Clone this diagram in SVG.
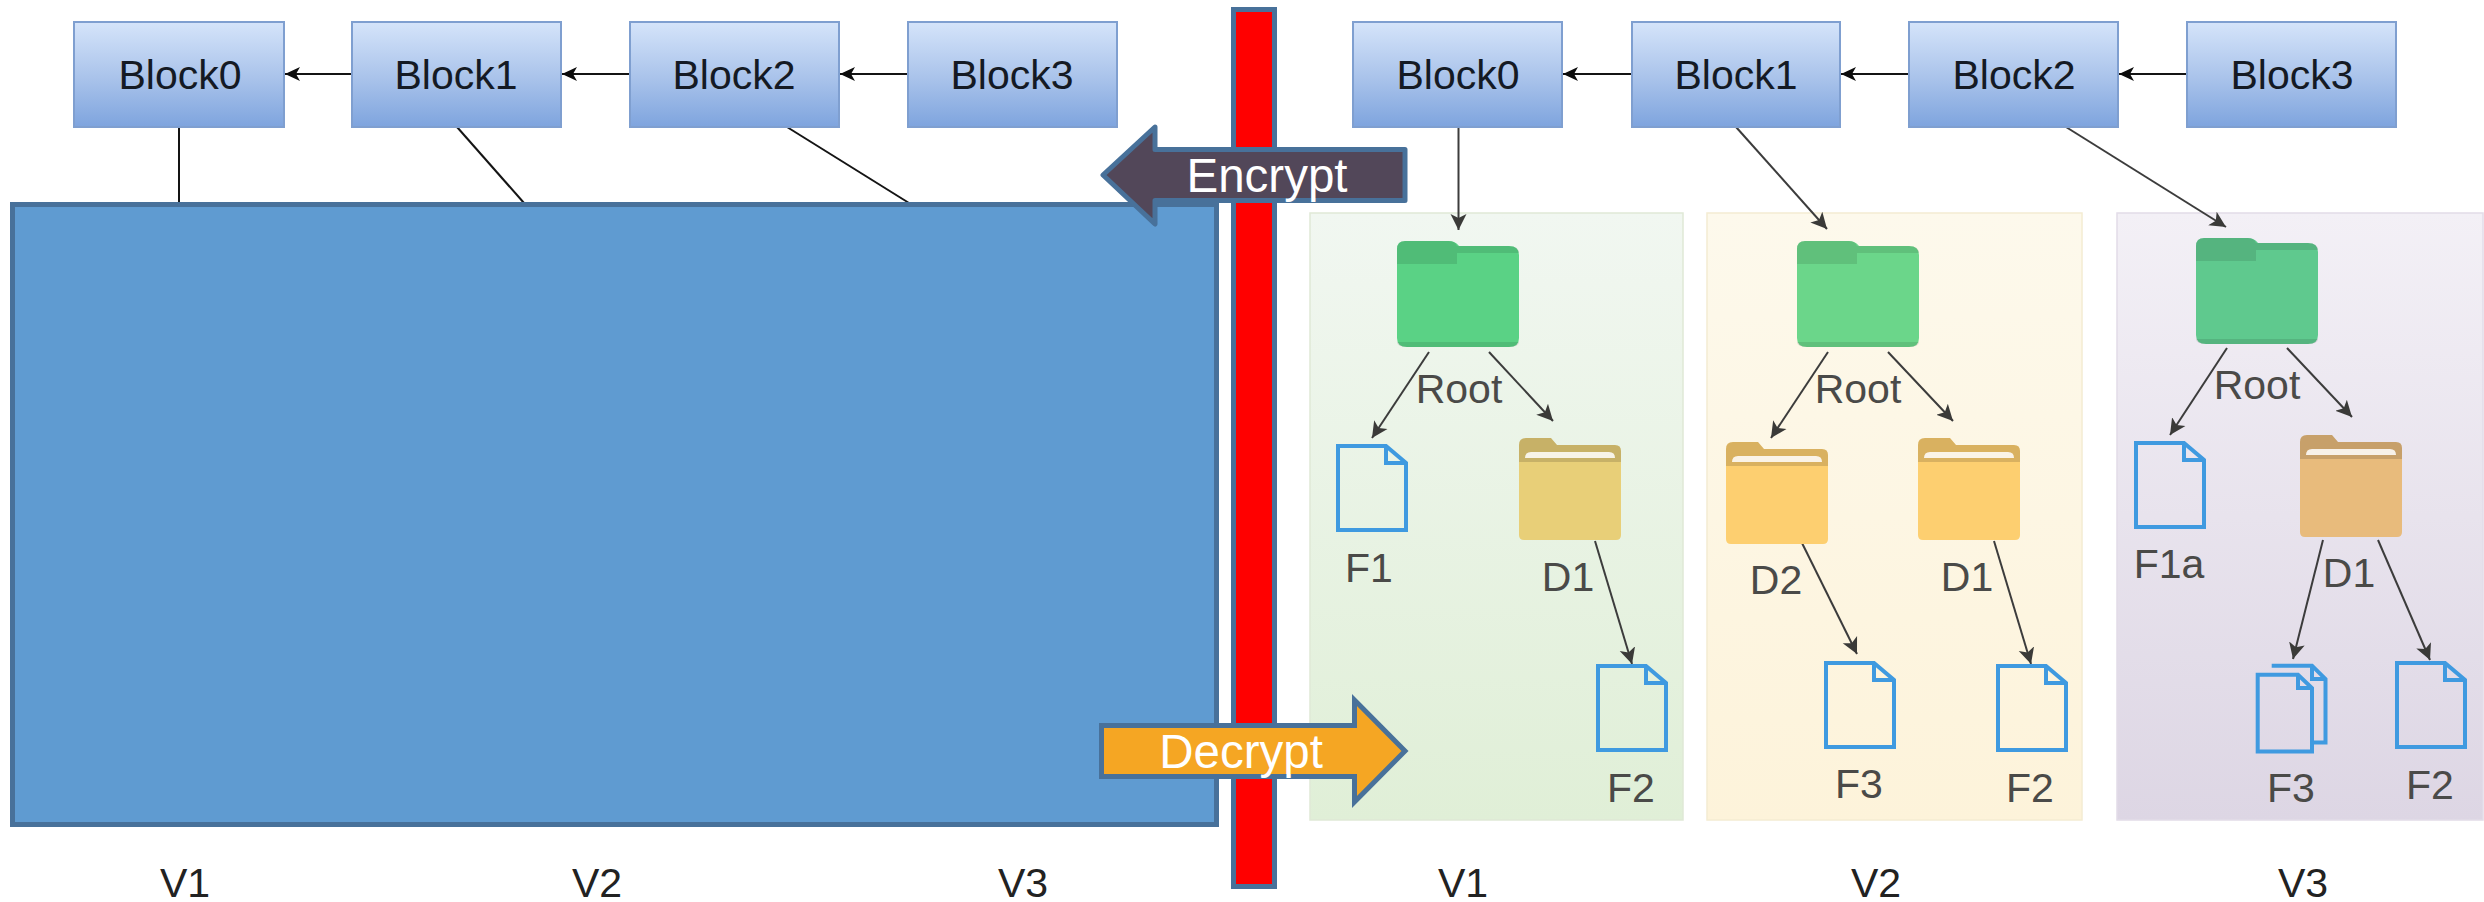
<svg xmlns="http://www.w3.org/2000/svg" xmlns:xlink="http://www.w3.org/1999/xlink" width="2484" height="902" viewBox="0 0 2484 902">
<style>
text{font-family:"Liberation Sans",Arial,sans-serif;font-size:41px;text-anchor:middle}
.blk rect{fill:url(#gb);stroke:#7f9fd0;stroke-width:2}
.blk text{fill:#141a24}
.lbl{fill:#4a4a48}
.v{fill:#222;font-size:41px}
.doc{fill:none;stroke:#3f9ae0;stroke-width:4}
.big{stroke:#48719a;stroke-width:5}
.big2{fill:#fff;font-size:47.500px}
.link{stroke:#141414;stroke-width:2;fill:none}
.tree{stroke:#3c3c3c;stroke-width:2;fill:none;marker-end:url(#ah)}
.blink{marker-end:url(#ab)}
.shade{fill:#000;fill-opacity:.1}
.strip{fill:#fff;fill-opacity:.85}
.back{fill:#000;fill-opacity:.14}
</style>
<defs>
<linearGradient id="gb" x1="0" y1="0" x2="0" y2="1"><stop offset="0" stop-color="#d5e4fa"/><stop offset=".55" stop-color="#a8c2ea"/><stop offset="1" stop-color="#7ea4de"/></linearGradient>
<linearGradient id="gp1" x1="0" y1="0" x2="0" y2="1"><stop offset="0" stop-color="#f1f7f1"/><stop offset="1" stop-color="#e0efd7"/></linearGradient>
<linearGradient id="gp2" x1="0" y1="0" x2="0" y2="1"><stop offset="0" stop-color="#fdf9ec"/><stop offset="1" stop-color="#fdf3da"/></linearGradient>
<linearGradient id="gp3" x1="0" y1="0" x2="0" y2="1"><stop offset="0" stop-color="#f3f0f6"/><stop offset="1" stop-color="#ddd6e4"/></linearGradient>
<marker id="ab" markerUnits="userSpaceOnUse" markerWidth="16" markerHeight="16" viewBox="0 0 16 16" refX="15" refY="8" orient="auto"><path d="M0 1L15 8L0 15L4 8Z" fill="#0c0c0c"/></marker>
<marker id="ah" markerUnits="userSpaceOnUse" markerWidth="18" markerHeight="18" viewBox="0 0 18 18" refX="16" refY="9" orient="auto"><path d="M0 1L16 9L0 17L4 9Z" fill="#3a3a38"/></marker>
<g id="file"><path class="doc" d="M2 2H50L70 19V86H2ZM50 2V19H70"/></g>
<g id="folder">
<path d="M0 20H102V97Q102 102 97 102H5Q0 102 0 97Z"/>
<path d="M0 7Q0 0 7 0H32L38 7H96Q102 7 102 13V24H0Z"/>
<path class="back" d="M0 7Q0 0 7 0H32L38 7H96Q102 7 102 13V24H0Z"/>
<path class="strip" d="M6 20Q6 14 12 14H90Q96 14 96 20Z"/>
</g>
<g id="rootf">
<path d="M0 8Q0 0 8 0H52Q58 0 62 5H112Q122 5 122 14V97Q122 106 112 106H10Q0 106 0 97Z"/>
<path class="shade" d="M0 8Q0 0 8 0H52Q58 0 60 5V23H0Z"/>
<path class="shade" d="M60 5H112Q122 5 122 12H60Z"/>
<path class="shade" d="M0 101H122Q122 106 112 106H10Q0 106 0 101Z"/>
</g>
</defs>
<rect width="2484" height="902" fill="#fff"/>

<g id="panel-v1"><rect x="1310" y="213" width="373" height="607" fill="url(#gp1)" stroke="#dfe9d6" stroke-width="1.5"/></g>
<g id="panel-v2"><rect x="1707" y="213" width="375" height="607" fill="url(#gp2)" stroke="#f4ecd2" stroke-width="1.5"/></g>
<g id="panel-v3"><rect x="2117" y="213" width="366" height="607" fill="url(#gp3)" stroke="#e2dce8" stroke-width="1.5"/></g>

<g id="connectors">
<line class="link blink" x1="352" y1="74" x2="285" y2="74"/>
<line class="link blink" x1="630" y1="74" x2="562" y2="74"/>
<line class="link blink" x1="908" y1="74" x2="840" y2="74"/>
<line class="link" x1="179" y1="127" x2="179" y2="203"/>
<line class="link" x1="457" y1="127" x2="524" y2="203"/>
<line class="link" x1="787" y1="127" x2="909" y2="203"/>
<line class="link blink" x1="1632" y1="74" x2="1563" y2="74"/>
<line class="link blink" x1="1909" y1="74" x2="1841" y2="74"/>
<line class="link blink" x1="2187" y1="74" x2="2119" y2="74"/>
<line class="tree" x1="1458.500" y1="127" x2="1458.500" y2="230"/>
<line class="tree" x1="1736" y1="127" x2="1827" y2="229"/>
<line class="tree" x1="2066" y1="127" x2="2226" y2="227"/>
<line class="tree" x1="1429" y1="352" x2="1372" y2="438"/>
<line class="tree" x1="1489" y1="352" x2="1553" y2="421"/>
<line class="tree" x1="1595" y1="541" x2="1632" y2="664"/>
<line class="tree" x1="1828" y1="352" x2="1771" y2="438"/>
<line class="tree" x1="1888" y1="352" x2="1953" y2="421"/>
<line class="tree" x1="1802" y1="543" x2="1857" y2="654"/>
<line class="tree" x1="1994" y1="541" x2="2031" y2="664"/>
<line class="tree" x1="2227" y1="348" x2="2170" y2="435"/>
<line class="tree" x1="2287" y1="348" x2="2352" y2="417"/>
<line class="tree" x1="2323" y1="540" x2="2293" y2="659"/>
<line class="tree" x1="2378" y1="540" x2="2430" y2="660"/>
</g>

<g id="left-block0" class="blk"><rect x="74" y="22" width="210" height="105"/><text x="180" y="89">Block0</text></g>
<g id="left-block1" class="blk"><rect x="352" y="22" width="209" height="105"/><text x="456" y="89">Block1</text></g>
<g id="left-block2" class="blk"><rect x="630" y="22" width="209" height="105"/><text x="734" y="89">Block2</text></g>
<g id="left-block3" class="blk"><rect x="908" y="22" width="209" height="105"/><text x="1012" y="89">Block3</text></g>
<g id="right-block0" class="blk"><rect x="1353" y="22" width="209" height="105"/><text x="1458" y="89">Block0</text></g>
<g id="right-block1" class="blk"><rect x="1632" y="22" width="208" height="105"/><text x="1736" y="89">Block1</text></g>
<g id="right-block2" class="blk"><rect x="1909" y="22" width="209" height="105"/><text x="2014" y="89">Block2</text></g>
<g id="right-block3" class="blk"><rect x="2187" y="22" width="209" height="105"/><text x="2292" y="89">Block3</text></g>

<g id="v1-root"><use xlink:href="#rootf" href="#rootf" x="1397" y="241" fill="#5ad285"/><text class="lbl" x="1459" y="403">Root</text></g>
<g id="v1-f1"><use xlink:href="#file" href="#file" x="1336" y="444"/><text class="lbl" x="1369" y="582">F1</text></g>
<g id="v1-d1"><use xlink:href="#folder" href="#folder" x="1519" y="438" fill="#e8cf78"/><text class="lbl" x="1568" y="591">D1</text></g>
<g id="v1-f2"><use xlink:href="#file" href="#file" x="1596" y="664"/><text class="lbl" x="1631" y="802">F2</text></g>

<g id="v2-root"><use xlink:href="#rootf" href="#rootf" x="1797" y="241" fill="#6bd68a"/><text class="lbl" x="1858" y="403">Root</text></g>
<g id="v2-d2"><use xlink:href="#folder" href="#folder" x="1726" y="442" fill="#fdcf70"/><text class="lbl" x="1776" y="594">D2</text></g>
<g id="v2-d1"><use xlink:href="#folder" href="#folder" x="1918" y="438" fill="#fdcf70"/><text class="lbl" x="1967" y="591">D1</text></g>
<g id="v2-f3"><use xlink:href="#file" href="#file" x="1824" y="661"/><text class="lbl" x="1859" y="798">F3</text></g>
<g id="v2-f2"><use xlink:href="#file" href="#file" x="1996" y="664"/><text class="lbl" x="2030" y="802">F2</text></g>

<g id="v3-root"><use xlink:href="#rootf" href="#rootf" x="2196" y="238" fill="#5fc98e"/><text class="lbl" x="2257" y="399">Root</text></g>
<g id="v3-f1a"><use xlink:href="#file" href="#file" x="2134" y="441"/><text class="lbl" x="2169" y="578">F1a</text></g>
<g id="v3-d1"><use xlink:href="#folder" href="#folder" x="2300" y="435" fill="#e8bb7c"/><text class="lbl" x="2349" y="587">D1</text></g>
<g id="v3-f3">
<path class="doc" d="M2271.700 665.700H2312L2325.500 679V742.500H2311M2312 665.700V679H2325.500"/>
<path class="doc" d="M2257.700 674.700H2298L2312 688V751.500H2257.700ZM2298 674.700V688H2312"/>
<text class="lbl" x="2291" y="802">F3</text></g>
<g id="v3-f2"><use xlink:href="#file" href="#file" x="2395" y="661"/><text class="lbl" x="2430" y="799">F2</text></g>

<g id="cipher-block"><rect class="big" x="12.500" y="204.500" width="1204" height="620" fill="#5f9bd1"/></g>
<g id="barrier"><rect class="big" x="1233.500" y="9.500" width="41" height="877" fill="#f00"/></g>
<g id="encrypt"><path class="big" d="M1405 149.500H1155V127L1103 175L1155 224V200.500H1405Z" fill="#524759" stroke-linejoin="round"/><text class="big2" x="1267" y="192">Encrypt</text></g>
<g id="decrypt"><path class="big" d="M1101.500 725.500H1354.500V700L1405 751L1354.500 802V776.500H1101.500Z" fill="#f5a623"/><text class="big2" x="1241" y="768">Decrypt</text></g>

<g id="version-labels">
<text class="v" x="185" y="897">V1</text>
<text class="v" x="597" y="897">V2</text>
<text class="v" x="1023" y="897">V3</text>
<text class="v" x="1463" y="897">V1</text>
<text class="v" x="1876" y="897">V2</text>
<text class="v" x="2303" y="897">V3</text>
</g>
</svg>
